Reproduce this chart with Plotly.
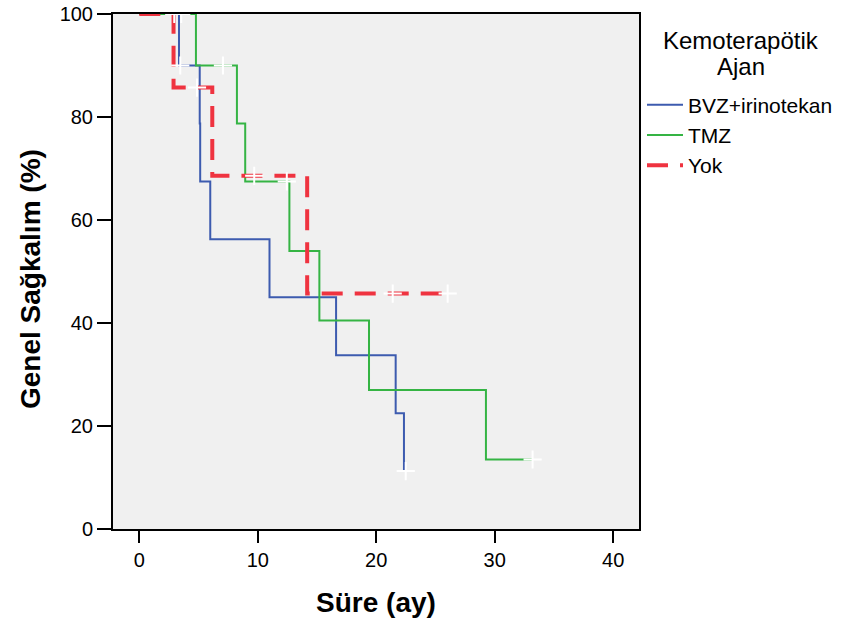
import plotly.graph_objects as go

# Kaplan-Meier step data (time in months, survival %)
bvz_time = [0, 3.35, 5.1, 5.14, 5.99, 10.99, 16.61, 21.64, 22.34, 22.49]
bvz_surv = [100, 90, 78.75, 67.5, 56.25, 45, 33.75, 22.5, 11.25, 11.25]
bvz_cens_time = [2.95, 3.46, 22.49]
bvz_cens_surv = [100, 90, 11.25]

tmz_time = [0, 4.78, 8.24, 8.94, 12.67, 15.2, 19.39, 29.26, 33.2]
tmz_surv = [100, 90, 78.75, 67.5, 54, 40.5, 27, 13.5, 13.5]
tmz_cens_time = [3.54, 7.06, 12.45, 33.2]
tmz_cens_surv = [100, 90, 67.5, 13.5]

yok_time = [0, 2.89, 6.16, 14.17, 26.03]
yok_surv = [100, 85.71, 68.57, 45.71, 45.71]
yok_cens_time = [4.87, 9.7, 21.39, 26.03]
yok_cens_surv = [85.71, 68.57, 45.71, 45.71]

series_names = ["BVZ+irinotekan", "TMZ", "Yok"]
legend_title_lines = ["Kemoterapötik", "Ajan"]
x_ticks = [0, 10, 20, 30, 40]
y_ticks = [0, 20, 40, 60, 80, 100]

FONT = "Liberation Sans, Arial, sans-serif"
BLUE = "#3D5BAF"
GREEN = "#35B444"
RED = "#EF3340"

TOP, BOTTOM = 14, 529
PH = BOTTOM - TOP


def py(px):
    return (BOTTOM - px) / PH


fig = go.Figure()
fig.add_trace(go.Scatter(x=bvz_time, y=bvz_surv, mode="lines", line_shape="hv",
                         name=series_names[0], line=dict(color=BLUE, width=2)))
fig.add_trace(go.Scatter(x=tmz_time, y=tmz_surv, mode="lines", line_shape="hv",
                         name=series_names[1], line=dict(color=GREEN, width=2)))
fig.add_trace(go.Scatter(x=yok_time, y=yok_surv, mode="lines", line_shape="hv",
                         name=series_names[2],
                         line=dict(color=RED, width=4, dash="21px,12px")))

cmark = dict(symbol="cross-thin", size=13, color="white",
             line=dict(color="white", width=2))
for ct, cs in [(bvz_cens_time, bvz_cens_surv), (tmz_cens_time, tmz_cens_surv),
               (yok_cens_time, yok_cens_surv)]:
    fig.add_trace(go.Scatter(x=ct, y=cs, mode="markers", marker=cmark,
                             showlegend=False, hoverinfo="skip"))

# legend title (two centred lines) and y-axis title as annotations
title_x = (741 - 113) / 526
for txt, ypx in zip(legend_title_lines, [40.7, 66.7]):
    fig.add_annotation(text=txt, xref="paper", yref="paper",
                       x=title_x, y=py(ypx), xanchor="center",
                       yanchor="middle", showarrow=False,
                       font=dict(size=24, family=FONT, color="black"))
fig.add_annotation(text="<b>Genel Sağkalım (%)</b>", xref="paper", yref="paper",
                   x=(30 - 113) / 526, y=py(279), xanchor="center",
                   yanchor="middle", textangle=-90, showarrow=False,
                   font=dict(size=28, family=FONT, color="black"))

fig.update_layout(
    width=848, height=634,
    margin=dict(l=113, r=209, t=TOP, b=634 - BOTTOM, autoexpand=False),
    paper_bgcolor="white", plot_bgcolor="#F0F0F0",
    font=dict(family=FONT, color="black", size=20),
    legend=dict(
        x=1.0057, xanchor="left", y=py(135), yanchor="middle",
        font=dict(size=21, family=FONT),
        itemwidth=36, bgcolor="rgba(0,0,0,0)", borderwidth=0,
        tracegroupgap=0,
    ),
    xaxis=dict(
        range=[-2.22, 42.18], tickvals=x_ticks, showgrid=False, zeroline=False,
        showline=True, linecolor="black", linewidth=2, mirror=True,
        ticks="outside", ticklen=12, tickwidth=2, tickcolor="black",
        tickfont=dict(size=20),
        title=dict(text="<b>Süre (ay)</b>", font=dict(size=28), standoff=22),
    ),
    yaxis=dict(
        range=[0, 100], tickvals=y_ticks, showgrid=False, zeroline=False,
        showline=True, linecolor="black", linewidth=2, mirror=True,
        ticks="outside", ticklen=14, tickwidth=2, tickcolor="black",
        tickfont=dict(size=20),
    ),
)

fig.write_html("out.html")
